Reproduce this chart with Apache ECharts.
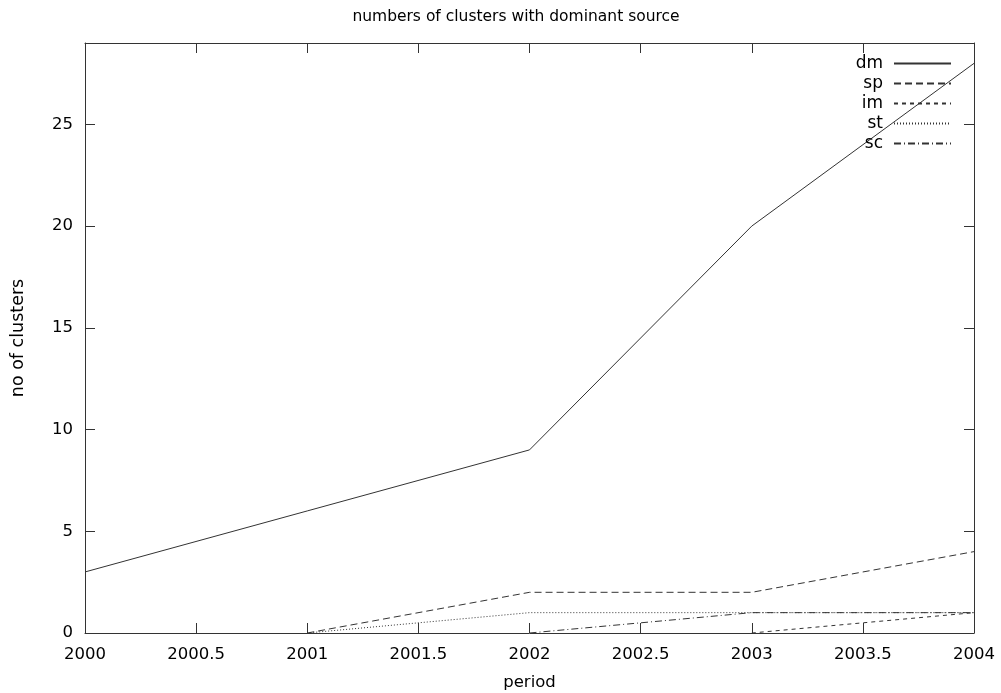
<!DOCTYPE html>
<html>
<head>
<meta charset="utf-8">
<title>numbers of clusters with dominant source</title>
<script src="https://cdn.jsdelivr.net/npm/echarts@6/dist/echarts.min.js"></script>
<style>
  html, body { margin: 0; padding: 0; background: #fff; }
  #chart { width: 1001px; height: 693px; }
</style>
</head>
<body>
<div id="chart"></div>
<script>
// Periods on the x axis and cluster counts per dominant source (null = no data)
const periods = [2000, 2001, 2002, 2003, 2004];
const dm = [3, 6, 9, 20, 28];
const sp = [null, 0, 2, 2, 4];
const im = [null, null, null, 0, 1];
const st = [null, 0, 1, 1, 1];
const sc = [null, null, 0, 1, 1];

const seriesNames = ['dm', 'sp', 'im', 'st', 'sc'];
const seriesValues = [dm, sp, im, st, sc];
// dash patterns: solid, long dash, short dash, dotted, dash-dot
const dashTypes = ['solid', [7, 4], [4, 4], [1, 2], [7, 3, 1, 3]];

const FONT = '"DejaVu Sans", "Liberation Sans", Arial, sans-serif';
const INK = '#333';

function pairs(values) {
  const out = [];
  values.forEach((v, i) => { if (v !== null) out.push([periods[i], v]); });
  return out;
}

const baseX = {
  type: 'value', min: 2000, max: 2004, interval: 0.5,
  splitLine: { show: false },
  axisLine: { show: true, onZero: false, lineStyle: { color: INK, width: 1 } },
  axisTick: { show: true, inside: true, length: 10, lineStyle: { color: INK } }
};
const baseY = {
  type: 'value', min: 0, max: 29, interval: 5,
  splitLine: { show: false },
  axisLine: { show: true, onZero: false, lineStyle: { color: INK, width: 1 } },
  axisTick: { show: true, inside: true, length: 10, lineStyle: { color: INK } }
};

const chart = echarts.init(document.getElementById('chart'));
chart.setOption({
  animation: false,
  backgroundColor: '#fff',
  textStyle: { fontFamily: FONT, color: '#000' },
  title: {
    text: 'numbers of clusters with dominant source',
    left: 511, textAlign: 'center', top: 4,
    textStyle: { fontFamily: FONT, fontSize: 15.5, fontWeight: 'normal', color: '#000' }
  },
  grid: { left: 85, right: 27, top: 43, bottom: 60, show: false, outerBoundsMode: 'none', containLabel: false },
  legend: {
    orient: 'vertical', align: 'right',
    right: 44, top: 50,
    itemWidth: 57, itemHeight: 14, itemGap: 3,
    textStyle: { fontFamily: FONT, fontSize: 17, color: '#000', padding: [0, 6, 0, 0] },
    itemStyle: { color: 'rgba(0,0,0,0)', borderWidth: 0 },
    data: seriesNames
  },
  xAxis: [
    Object.assign({}, baseX, {
      position: 'bottom',
      name: 'period', nameLocation: 'middle', nameGap: 41,
      nameTextStyle: { fontFamily: FONT, fontSize: 16.5, color: '#000' },
      axisLabel: {
        fontFamily: FONT, fontSize: 16.5, color: '#000', margin: 13,
        formatter: v => String(v)
      }
    }),
    Object.assign({}, baseX, { position: 'top', axisLabel: { show: false } })
  ],
  yAxis: [
    Object.assign({}, baseY, {
      position: 'left',
      name: 'no of clusters', nameLocation: 'middle', nameGap: 58,
      nameTextStyle: { fontFamily: FONT, fontSize: 17.5, color: '#000' },
      axisLabel: {
        fontFamily: FONT, fontSize: 16.5, color: '#000', margin: 12,
        formatter: v => (v % 5 === 0 ? String(v) : '')
      }
    }),
    Object.assign({}, baseY, { position: 'right', axisLabel: { show: false } })
  ],
  series: seriesNames.map((name, i) => ({
    name: name,
    type: 'line',
    xAxisIndex: 0, yAxisIndex: 0,
    data: pairs(seriesValues[i]),
    symbol: 'none',
    lineStyle: { color: INK, width: 1, type: dashTypes[i] },
    itemStyle: { color: INK },
    emphasis: { disabled: true }
  }))
});
</script>
</body>
</html>
